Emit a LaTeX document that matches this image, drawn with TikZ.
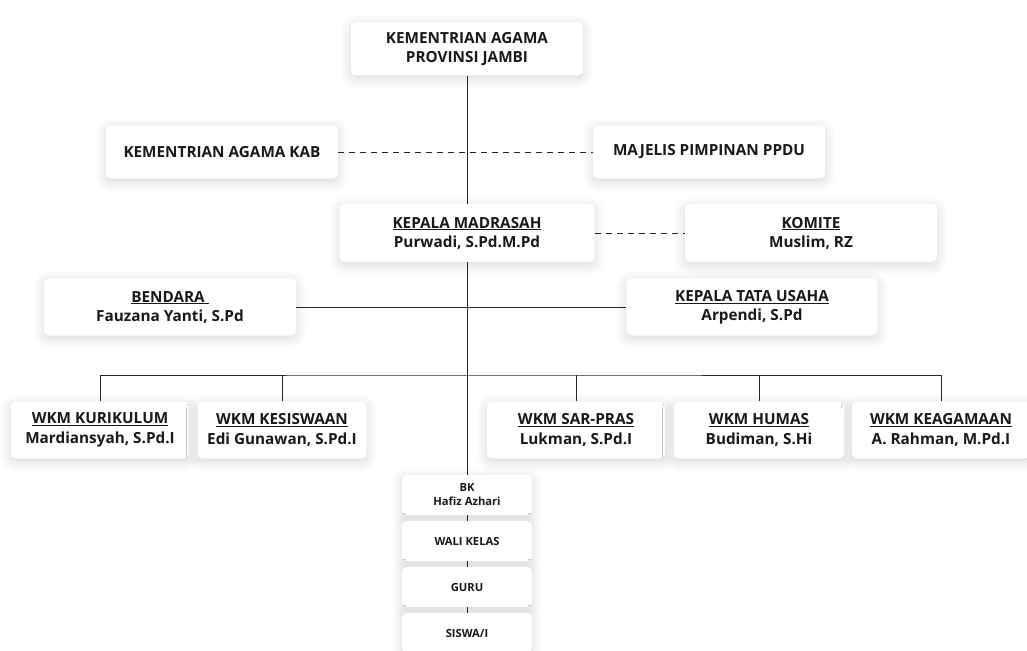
\documentclass[tikz,border=0pt]{standalone}
\usepackage{fontspec}
\setmainfont{Open Sans}
\usetikzlibrary{shadows.blur,backgrounds}

\begin{document}
\begin{tikzpicture}
[x=1pt, y=-1pt,
every node/.style={fill=white, rounded corners=5pt, align=center, inner sep=2pt, text=black!90,
  blur shadow={shadow xshift=0pt, shadow yshift=-3pt, shadow blur radius=11pt,
  shadow blur steps=8, shadow opacity=16}},
box/.style={minimum width=232, minimum height=53, font=\fontsize{15.3}{19}\selectfont\bfseries},
wkm/.style={minimum width=174, minimum height=57, font=\fontsize{15.3}{20}\selectfont\bfseries},
small/.style={minimum width=130, minimum height=40, font=\fontsize{11.2}{14}\selectfont\bfseries},
link/.style={black!85, line width=0.8pt}]
\useasboundingbox (0,0) rectangle (1027,650);

% atas
\node[box] (kemenag) at (467,49) {KEMENTRIAN AGAMA\\PROVINSI JAMBI};
\node[box] (kab) at (222,152) {KEMENTRIAN AGAMA KAB};
\node[box] (majelis) at (709,152) {MAJELIS PIMPINAN PPDU};

% pimpinan
\node[box, minimum width=255, minimum height=58] (kamad) at (467,233) {\underline{KEPALA MADRASAH}\\Purwadi, S.Pd.M.Pd};
\node[box, minimum width=252, minimum height=58] (komite) at (811,233) {\underline{KOMITE}\\Muslim, RZ};
\node[box, minimum width=252, minimum height=57] (bendara) at (170,307) {\underline{BENDARA\ }\\Fauzana Yanti, S.Pd};
\node[box, minimum width=251, minimum height=57] (ktu) at (752,307) {\underline{KEPALA TATA USAHA}\\Arpendi, S.Pd};

% wakil kepala
\node[wkm, minimum width=178] (kur) at (100,430) {\underline{WKM KURIKULUM}\\Mardiansyah, S.Pd.I};
\node[wkm, minimum width=169] (kes) at (282,430) {\underline{WKM KESISWAAN}\\Edi Gunawan, S.Pd.I};
\node[wkm, minimum width=178] (sar) at (576,430) {\underline{WKM SAR-PRAS}\\Lukman, S.Pd.I};
\node[wkm, minimum width=171] (hum) at (759,430) {\underline{WKM HUMAS}\\Budiman, S.Hi};
\node[wkm, minimum width=178] (kea) at (941,430) {\underline{WKM KEAGAMAAN}\\A. Rahman, M.Pd.I};

% bawah
\node[small] (bk) at (467,495) {BK\\Hafiz Azhari};
\node[small] (wali) at (467,541) {WALI KELAS};
\node[small] (guru) at (467,587) {GURU};
\node[small] (siswa) at (467,633) {SISWA/I};

\begin{pgfonlayer}{background}
\coordinate (bus) at (467,375);
\draw[link] (kemenag.south) -- (siswa.north);
\draw[link, dash pattern=on 6pt off 5pt] (kab) -- (majelis);
\draw[link, dash pattern=on 6pt off 5pt] (kamad) -- (komite);
\draw[link] (bendara) -- (ktu);
\draw[link] (kur.north) |- (bus) -| (kea.north);
\draw[link] (kes.north) -- (kes.north |- bus);
\draw[link] (sar.north) -- (sar.north |- bus);
\draw[link] (hum.north) -- (hum.north |- bus);
\end{pgfonlayer}
\end{tikzpicture}
\end{document}
